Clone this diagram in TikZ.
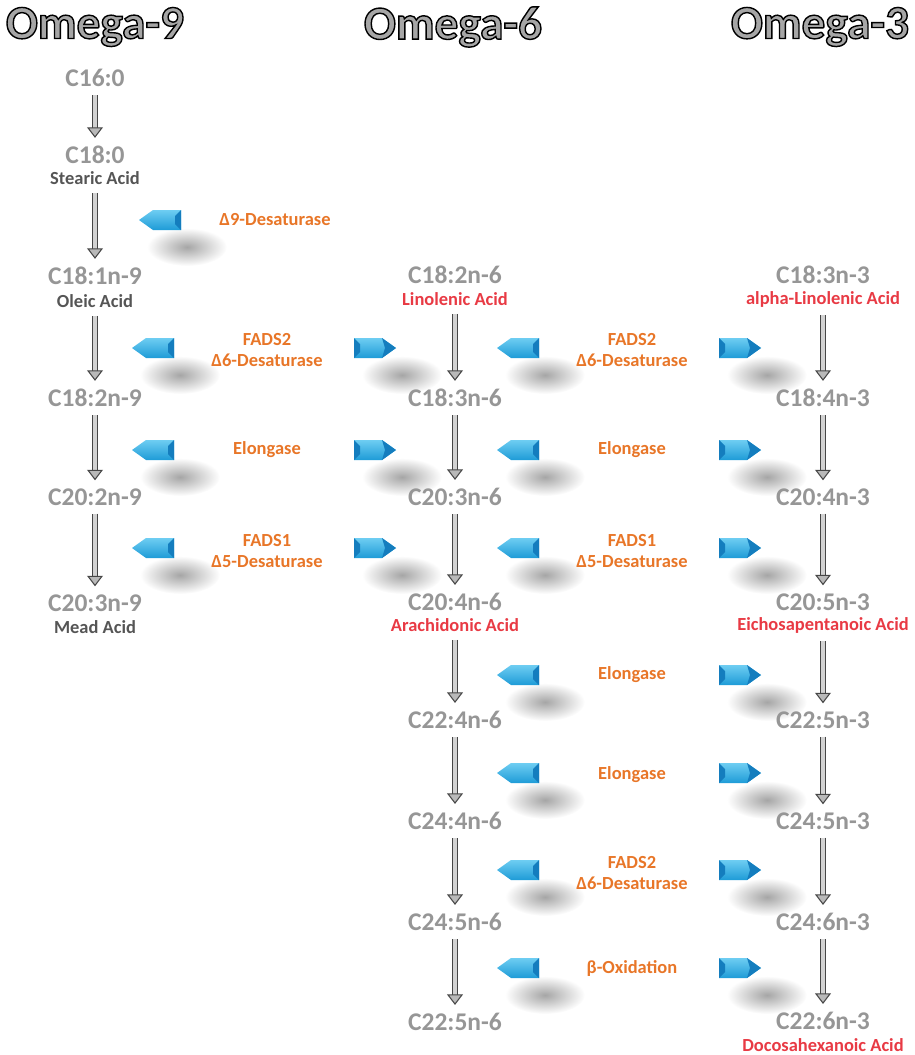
\documentclass[tikz,border=0pt]{standalone}
\usepackage{fontspec}
\setmainfont{Carlito}
\usetikzlibrary{arrows.meta}

\definecolor{cmpgray}{RGB}{150,150,150}
\definecolor{acidgray}{RGB}{85,85,85}
\definecolor{acidred}{RGB}{232,58,68}
\definecolor{enzorange}{RGB}{232,118,40}
\definecolor{bluetop}{RGB}{110,205,242}
\definecolor{bluebot}{RGB}{30,155,215}
\definecolor{bluedeep}{RGB}{20,125,190}

% outlined heading text (fill + stroke)
\newcommand{\outlined}[1]{\special{pdf:literal direct 2 Tr 0.8 w 0 G}#1\special{pdf:literal direct 0 Tr}}

\tikzset{
  header/.style={font=\bfseries\fontsize{27}{30}\selectfont, text=gray!70},
  compound/.style={font=\bfseries\fontsize{14.5}{16}\selectfont, text=cmpgray, inner sep=0.5pt},
  acid/.style={font=\bfseries\fontsize{10.5}{12}\selectfont, text=acidgray, inner sep=0.5pt},
  redacid/.style={acid, text=acidred},
  enzyme/.style={font=\bfseries\fontsize{10.5}{12.5}\selectfont, text=enzorange, align=center},
  flow/.style={draw=gray!55!black, line width=0.6pt, double=gray!35, double distance=2.4pt,
    -{Triangle[width=9pt,length=6pt,fill=gray!55]}, shorten <=4pt, shorten >=4pt},
  blob/.style={inner color=gray!70, outer color=white},
  pics/leftblue/.style={code={
    \shade[blob] (27,27) ellipse (40 and 19);
    \shade[top color=bluetop, bottom color=bluebot] (-21,0) -- (-7,-10) -- (21,-10) -- (21,10) -- (-7,10) -- cycle;
    \fill[bluedeep] (21,-10) -- (15,-4) -- (15,4) -- (21,10) -- cycle;
  }},
  pics/rightblue/.style={code={
    \shade[blob] (27,27) ellipse (40 and 19);
    \shade[top color=bluetop, bottom color=bluebot] (21,0) -- (7,-10) -- (-21,-10) -- (-21,10) -- (7,10) -- cycle;
    \fill[bluedeep] (-21,-10) -- (-15,-4) -- (-15,4) -- (-21,10) -- cycle;
    \fill[bluedeep] (7,-10) -- (21,0) -- (7,10) -- (10,0) -- cycle;
  }},
}

\begin{document}
\begin{tikzpicture}[x=0.02cm, y=-0.02cm]
  \useasboundingbox (0,0) rectangle (915,1055);

  % Enzyme arrows (drawn first, shadows under text)
  \pic at (160,220) {leftblue};
  \foreach \y in {348,450,548} {
    \pic at (153,\y) {leftblue};
    \pic at (375,\y) {rightblue};
  }
  \foreach \y in {348,450,548,675,773,870,968} {
    \pic at (518,\y) {leftblue};
    \pic at (740,\y) {rightblue};
  }

  % Headers
  \node[header] (hdr9) at (95,27) {\outlined{Omega-9}};
  \node[header] (hdr6) at (453,27) {\outlined{Omega-6}};
  \node[header] (hdr3) at (820,27) {\outlined{Omega-3}};

  % Enzyme labels
  \node[enzyme] (d9) at (275,220) {Δ9-Desaturase};
  \node[enzyme] (fads2a) at (267,350) {FADS2\\Δ6-Desaturase};
  \node[enzyme] (elonga) at (267,450) {Elongase};
  \node[enzyme] (fads1a) at (267,551) {FADS1\\Δ5-Desaturase};
  \node[enzyme] (fads2b) at (632,350) {FADS2\\Δ6-Desaturase};
  \node[enzyme] (elongb) at (632,450) {Elongase};
  \node[enzyme] (fads1b) at (632,551) {FADS1\\Δ5-Desaturase};
  \node[enzyme] (elongc) at (632,675) {Elongase};
  \node[enzyme] (elongd) at (632,775) {Elongase};
  \node[enzyme] (fads2c) at (632,873) {FADS2\\Δ6-Desaturase};
  \node[enzyme] (betaox) at (632,968) {β-Oxidation};

  % Omega-9 column
  \node[compound] (c160) at (95,78) {C16:0};
  \node[compound] (c180) at (95,155) {C18:0};
  \node[acid] (stearic) at (95,178) {Stearic Acid};
  \node[compound] (c181n9) at (95,276) {C18:1n-9};
  \node[acid] (oleic) at (95,301) {Oleic Acid};
  \node[compound] (c182n9) at (95,398) {C18:2n-9};
  \node[compound] (c202n9) at (95,497) {C20:2n-9};
  \node[compound] (c203n9) at (95,603) {C20:3n-9};
  \node[acid] (mead) at (95,627) {Mead Acid};

  % Omega-6 column
  \node[compound] (c182n6) at (455,275) {C18:2n-6};
  \node[redacid] (linol) at (455,299) {Linolenic Acid};
  \node[compound] (c183n6) at (455,398) {C18:3n-6};
  \node[compound] (c203n6) at (455,497) {C20:3n-6};
  \node[compound] (c204n6) at (455,602) {C20:4n-6};
  \node[redacid] (arach) at (455,625) {Arachidonic Acid};
  \node[compound] (c224n6) at (455,720) {C22:4n-6};
  \node[compound] (c244n6) at (455,821) {C24:4n-6};
  \node[compound] (c245n6) at (455,922) {C24:5n-6};
  \node[compound] (c225n6) at (455,1022) {C22:5n-6};

  % Omega-3 column
  \node[compound] (c183n3) at (823,275) {C18:3n-3};
  \node[redacid] (alinol) at (823,299) {alpha-Linolenic Acid};
  \node[compound] (c184n3) at (823,398) {C18:4n-3};
  \node[compound] (c204n3) at (823,497) {C20:4n-3};
  \node[compound] (c205n3) at (823,602) {C20:5n-3};
  \node[redacid] (epa) at (823,625) {Eichosapentanoic Acid};
  \node[compound] (c225n3) at (823,720) {C22:5n-3};
  \node[compound] (c245n3) at (823,821) {C24:5n-3};
  \node[compound] (c246n3) at (823,922) {C24:6n-3};
  \node[compound] (c226n3) at (823,1021) {C22:6n-3};
  \node[redacid] (dha) at (823,1045) {Docosahexanoic Acid};

  % Pathway arrows
  \draw[flow] (c160) -- (c180);
  \draw[flow] (stearic) -- (c181n9);
  \draw[flow] (oleic) -- (c182n9);
  \draw[flow] (c182n9) -- (c202n9);
  \draw[flow] (c202n9) -- (c203n9);

  \draw[flow] (linol) -- (c183n6);
  \draw[flow] (c183n6) -- (c203n6);
  \draw[flow] (c203n6) -- (c204n6);
  \draw[flow] (arach) -- (c224n6);
  \draw[flow] (c224n6) -- (c244n6);
  \draw[flow] (c244n6) -- (c245n6);
  \draw[flow] (c245n6) -- (c225n6);

  \draw[flow] (alinol) -- (c184n3);
  \draw[flow] (c184n3) -- (c204n3);
  \draw[flow] (c204n3) -- (c205n3);
  \draw[flow] (epa) -- (c225n3);
  \draw[flow] (c225n3) -- (c245n3);
  \draw[flow] (c245n3) -- (c246n3);
  \draw[flow] (c246n3) -- (c226n3);
\end{tikzpicture}
\end{document}
